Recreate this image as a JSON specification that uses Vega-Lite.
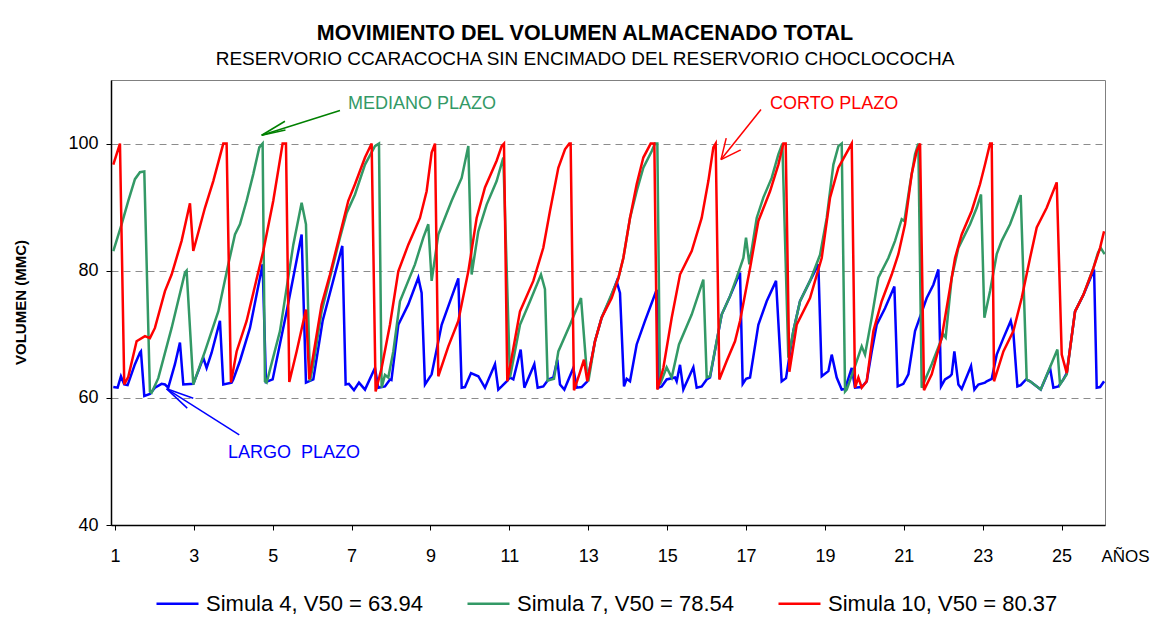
{
  "$schema": "https://vega.github.io/schema/vega-lite/v6.json",
  "width": 994,
  "height": 445,
  "autosize": {"type": "none"},
  "padding": {"left": 111, "top": 80, "right": 59, "bottom": 96},
  "background": "white",
  "config": {
    "font": "Liberation Sans",
    "view": {"stroke": "#808080", "strokeWidth": 1}
  },
  "title": {
    "text": "MOVIMIENTO DEL VOLUMEN ALMACENADO TOTAL",
    "subtitle": "RESERVORIO CCARACOCHA SIN ENCIMADO DEL RESERVORIO CHOCLOCOCHA",
    "font": "Liberation Sans",
    "subtitleFont": "Liberation Sans",
    "fontSize": 21.5,
    "fontWeight": "bold",
    "subtitleFontSize": 19,
    "color": "black",
    "subtitleColor": "black",
    "anchor": "middle",
    "dx": -23,
    "offset": 11,
    "subtitlePadding": 6
  },
  "datasets": {
    "s4": [
      {"anio":0.958,"vol":61.7},{"anio":1.068,"vol":61.6},{"anio":1.152,"vol":63.4},{"anio":1.236,"vol":62.1},{"anio":1.321,"vol":62.0},{"anio":1.507,"vol":65.3},{"anio":1.634,"vol":67.1},{"anio":1.659,"vol":67.3},{"anio":1.744,"vol":60.3},{"anio":1.887,"vol":60.6},{"anio":2.014,"vol":61.6},{"anio":2.183,"vol":62.2},{"anio":2.268,"vol":62.1},{"anio":2.352,"vol":61.6},{"anio":2.521,"vol":65.3},{"anio":2.648,"vol":68.7},{"anio":2.733,"vol":62.1},{"anio":2.986,"vol":62.2},{"anio":3.113,"vol":64.2},{"anio":3.240,"vol":66.3},{"anio":3.324,"vol":64.7},{"anio":3.451,"vol":67.1},{"anio":3.662,"vol":72.1},{"anio":3.747,"vol":62.1},{"anio":3.958,"vol":62.4},{"anio":4.000,"vol":62.9},{"anio":4.169,"vol":65.8},{"anio":4.423,"vol":71.0},{"anio":4.744,"vol":81.0},{"anio":4.829,"vol":62.5},{"anio":4.998,"vol":62.9},{"anio":5.353,"vol":73.6},{"anio":5.733,"vol":85.7},{"anio":5.843,"vol":62.4},{"anio":6.029,"vol":62.9},{"anio":6.265,"vol":72.1},{"anio":6.764,"vol":83.9},{"anio":6.849,"vol":62.1},{"anio":6.930,"vol":62.2},{"anio":7.060,"vol":61.2},{"anio":7.187,"vol":62.4},{"anio":7.339,"vol":61.3},{"anio":7.592,"vol":64.7},{"anio":7.677,"vol":61.6},{"anio":7.846,"vol":61.8},{"anio":7.972,"vol":62.9},{"anio":8.010,"vol":62.8},{"anio":8.184,"vol":71.5},{"anio":8.437,"vol":74.7},{"anio":8.691,"vol":78.9},{"anio":8.775,"vol":76.5},{"anio":8.860,"vol":62.1},{"anio":9.029,"vol":63.7},{"anio":9.283,"vol":71.5},{"anio":9.705,"vol":78.8},{"anio":9.790,"vol":61.6},{"anio":9.874,"vol":61.7},{"anio":10.027,"vol":63.9},{"anio":10.212,"vol":63.4},{"anio":10.381,"vol":61.6},{"anio":10.635,"vol":65.3},{"anio":10.719,"vol":61.3},{"anio":10.804,"vol":61.8},{"anio":10.931,"vol":62.6},{"anio":11.015,"vol":63.2},{"anio":11.100,"vol":62.9},{"anio":11.286,"vol":67.6},{"anio":11.379,"vol":61.6},{"anio":11.632,"vol":65.3},{"anio":11.717,"vol":61.6},{"anio":11.860,"vol":61.8},{"anio":11.987,"vol":62.9},{"anio":12.114,"vol":63.2},{"anio":12.215,"vol":66.0},{"anio":12.283,"vol":62.1},{"anio":12.393,"vol":61.3},{"anio":12.621,"vol":64.7},{"anio":12.706,"vol":61.6},{"anio":12.833,"vol":61.7},{"anio":12.976,"vol":62.6},{"anio":13.170,"vol":68.9},{"anio":13.339,"vol":72.6},{"anio":13.550,"vol":75.5},{"anio":13.720,"vol":78.3},{"anio":13.804,"vol":76.5},{"anio":13.906,"vol":61.8},{"anio":13.973,"vol":63.0},{"anio":14.058,"vol":62.6},{"anio":14.227,"vol":68.4},{"anio":14.438,"vol":72.1},{"anio":14.734,"vol":77.0},{"anio":14.776,"vol":61.6},{"anio":14.860,"vol":61.8},{"anio":14.987,"vol":62.9},{"anio":15.199,"vol":63.2},{"anio":15.241,"vol":62.6},{"anio":15.326,"vol":65.2},{"anio":15.410,"vol":61.3},{"anio":15.664,"vol":64.8},{"anio":15.748,"vol":61.6},{"anio":15.875,"vol":61.8},{"anio":16.002,"vol":62.9},{"anio":16.086,"vol":63.2},{"anio":16.382,"vol":73.1},{"anio":16.593,"vol":76.0},{"anio":16.847,"vol":79.7},{"anio":16.915,"vol":62.2},{"anio":17.000,"vol":63.0},{"anio":17.101,"vol":63.2},{"anio":17.312,"vol":71.5},{"anio":17.523,"vol":75.2},{"anio":17.760,"vol":78.4},{"anio":17.903,"vol":62.6},{"anio":18.013,"vol":63.1},{"anio":18.199,"vol":70.5},{"anio":18.368,"vol":75.2},{"anio":18.622,"vol":78.4},{"anio":18.833,"vol":81.0},{"anio":18.918,"vol":63.4},{"anio":19.087,"vol":64.2},{"anio":19.172,"vol":66.8},{"anio":19.298,"vol":63.2},{"anio":19.425,"vol":61.3},{"anio":19.510,"vol":61.4},{"anio":19.679,"vol":64.7},{"anio":19.763,"vol":61.6},{"anio":19.932,"vol":61.7},{"anio":20.059,"vol":62.6},{"anio":20.186,"vol":67.3},{"anio":20.312,"vol":71.5},{"anio":20.523,"vol":74.1},{"anio":20.760,"vol":77.5},{"anio":20.844,"vol":61.8},{"anio":20.988,"vol":62.2},{"anio":21.115,"vol":63.7},{"anio":21.284,"vol":70.5},{"anio":21.580,"vol":75.7},{"anio":21.749,"vol":77.8},{"anio":21.876,"vol":80.2},{"anio":21.943,"vol":61.8},{"anio":22.044,"vol":62.9},{"anio":22.171,"vol":63.4},{"anio":22.214,"vol":63.7},{"anio":22.281,"vol":67.3},{"anio":22.383,"vol":62.1},{"anio":22.467,"vol":61.4},{"anio":22.704,"vol":65.0},{"anio":22.789,"vol":61.3},{"anio":22.890,"vol":62.1},{"anio":23.058,"vol":62.4},{"anio":23.101,"vol":62.6},{"anio":23.228,"vol":63.0},{"anio":23.355,"vol":66.8},{"anio":23.524,"vol":69.4},{"anio":23.710,"vol":72.1},{"anio":23.777,"vol":70.2},{"anio":23.879,"vol":61.8},{"anio":23.963,"vol":62.0},{"anio":24.098,"vol":62.9},{"anio":24.200,"vol":62.6},{"anio":24.470,"vol":61.3},{"anio":24.707,"vol":64.7},{"anio":24.791,"vol":61.6},{"anio":24.918,"vol":61.8},{"anio":25.045,"vol":62.9},{"anio":25.130,"vol":63.9},{"anio":25.341,"vol":73.6},{"anio":25.552,"vol":76.2},{"anio":25.823,"vol":80.2},{"anio":25.890,"vol":61.6},{"anio":25.975,"vol":61.7},{"anio":26.076,"vol":62.6}
    ],
    "s7": [
      {"anio":0.958,"vol":83.1},{"anio":1.169,"vol":87.3},{"anio":1.338,"vol":91.0},{"anio":1.507,"vol":94.4},{"anio":1.634,"vol":95.5},{"anio":1.744,"vol":95.6},{"anio":1.887,"vol":61.0},{"anio":1.929,"vol":60.8},{"anio":2.099,"vol":63.1},{"anio":2.437,"vol":71.0},{"anio":2.775,"vol":79.7},{"anio":2.817,"vol":80.0},{"anio":2.986,"vol":62.1},{"anio":3.282,"vol":67.3},{"anio":3.620,"vol":73.6},{"anio":3.874,"vol":81.0},{"anio":4.043,"vol":85.7},{"anio":4.169,"vol":87.3},{"anio":4.338,"vol":91.0},{"anio":4.507,"vol":95.2},{"anio":4.660,"vol":99.4},{"anio":4.744,"vol":100},{"anio":4.803,"vol":62.6},{"anio":4.846,"vol":62.4},{"anio":5.184,"vol":70.5},{"anio":5.522,"vol":84.1},{"anio":5.733,"vol":90.7},{"anio":5.843,"vol":87.3},{"anio":5.944,"vol":62.6},{"anio":6.029,"vol":65.3},{"anio":6.240,"vol":73.6},{"anio":6.451,"vol":78.9},{"anio":6.705,"vol":85.2},{"anio":6.874,"vol":89.1},{"anio":7.085,"vol":92.0},{"anio":7.339,"vol":96.7},{"anio":7.592,"vol":99.6},{"anio":7.694,"vol":100},{"anio":7.761,"vol":61.6},{"anio":7.846,"vol":63.6},{"anio":7.930,"vol":63.2},{"anio":8.057,"vol":67.3},{"anio":8.226,"vol":75.2},{"anio":8.606,"vol":81.0},{"anio":8.818,"vol":85.2},{"anio":8.944,"vol":87.3},{"anio":9.029,"vol":78.4},{"anio":9.198,"vol":85.7},{"anio":9.536,"vol":91.0},{"anio":9.790,"vol":94.6},{"anio":9.959,"vol":99.6},{"anio":10.043,"vol":79.4},{"anio":10.212,"vol":86.2},{"anio":10.424,"vol":90.4},{"anio":10.677,"vol":94.1},{"anio":10.846,"vol":97.8},{"anio":11.015,"vol":63.2},{"anio":11.269,"vol":71.5},{"anio":11.523,"vol":75.2},{"anio":11.801,"vol":79.4},{"anio":11.902,"vol":77.1},{"anio":11.970,"vol":62.7},{"anio":12.131,"vol":63.0},{"anio":12.241,"vol":67.3},{"anio":12.537,"vol":71.5},{"anio":12.816,"vol":75.7},{"anio":12.960,"vol":64.2},{"anio":13.002,"vol":62.6},{"anio":13.170,"vol":68.9},{"anio":13.339,"vol":72.6},{"anio":13.550,"vol":75.7},{"anio":13.762,"vol":78.8},{"anio":13.889,"vol":82.0},{"anio":14.058,"vol":88.3},{"anio":14.227,"vol":92.5},{"anio":14.396,"vol":96.2},{"anio":14.607,"vol":98.8},{"anio":14.691,"vol":100},{"anio":14.751,"vol":100},{"anio":14.818,"vol":62.1},{"anio":14.987,"vol":64.8},{"anio":15.115,"vol":63.2},{"anio":15.300,"vol":68.4},{"anio":15.622,"vol":73.1},{"anio":15.917,"vol":78.6},{"anio":16.002,"vol":63.2},{"anio":16.086,"vol":63.4},{"anio":16.382,"vol":73.1},{"anio":16.593,"vol":76.0},{"anio":16.763,"vol":78.9},{"anio":16.932,"vol":82.0},{"anio":16.999,"vol":85.2},{"anio":17.084,"vol":81.0},{"anio":17.270,"vol":88.3},{"anio":17.438,"vol":91.5},{"anio":17.650,"vol":94.6},{"anio":17.819,"vol":98.3},{"anio":17.920,"vol":100},{"anio":18.072,"vol":66.3},{"anio":18.199,"vol":70.5},{"anio":18.368,"vol":75.2},{"anio":18.622,"vol":78.4},{"anio":18.876,"vol":82.5},{"anio":19.045,"vol":88.3},{"anio":19.214,"vol":96.7},{"anio":19.341,"vol":99.6},{"anio":19.425,"vol":100},{"anio":19.510,"vol":61.0},{"anio":19.552,"vol":61.3},{"anio":19.763,"vol":65.0},{"anio":19.932,"vol":68.1},{"anio":20.016,"vol":66.8},{"anio":20.186,"vol":72.6},{"anio":20.354,"vol":78.9},{"anio":20.608,"vol":82.0},{"anio":20.777,"vol":84.7},{"anio":20.946,"vol":88.1},{"anio":21.013,"vol":87.8},{"anio":21.157,"vol":93.6},{"anio":21.284,"vol":98.3},{"anio":21.368,"vol":100},{"anio":21.453,"vol":61.6},{"anio":21.707,"vol":65.3},{"anio":22.002,"vol":70.0},{"anio":22.061,"vol":69.5},{"anio":22.214,"vol":78.9},{"anio":22.383,"vol":83.6},{"anio":22.679,"vol":87.3},{"anio":22.848,"vol":89.9},{"anio":22.957,"vol":92.0},{"anio":23.042,"vol":72.6},{"anio":23.186,"vol":76.8},{"anio":23.355,"vol":82.6},{"anio":23.481,"vol":84.7},{"anio":23.693,"vol":87.3},{"anio":23.819,"vol":89.4},{"anio":23.963,"vol":91.9},{"anio":24.115,"vol":62.9},{"anio":24.200,"vol":62.6},{"anio":24.470,"vol":61.3},{"anio":24.893,"vol":67.6},{"anio":24.960,"vol":62.1},{"anio":25.130,"vol":63.7},{"anio":25.341,"vol":73.6},{"anio":25.552,"vol":76.2},{"anio":25.806,"vol":80.4},{"anio":25.920,"vol":82.8},{"anio":25.990,"vol":83.6},{"anio":26.090,"vol":82.6}
    ],
    "s10": [
      {"anio":0.958,"vol":96.7},{"anio":1.127,"vol":100},{"anio":1.236,"vol":62.1},{"anio":1.338,"vol":63.3},{"anio":1.549,"vol":68.9},{"anio":1.761,"vol":69.7},{"anio":1.887,"vol":69.4},{"anio":2.014,"vol":71.0},{"anio":2.268,"vol":76.8},{"anio":2.437,"vol":79.4},{"anio":2.690,"vol":84.7},{"anio":2.902,"vol":90.6},{"anio":2.986,"vol":83.1},{"anio":3.282,"vol":89.9},{"anio":3.493,"vol":94.1},{"anio":3.747,"vol":100},{"anio":3.831,"vol":100},{"anio":3.941,"vol":62.4},{"anio":4.085,"vol":67.3},{"anio":4.338,"vol":72.1},{"anio":4.761,"vol":83.1},{"anio":5.014,"vol":91.0},{"anio":5.251,"vol":100},{"anio":5.336,"vol":100},{"anio":5.420,"vol":62.5},{"anio":5.606,"vol":67.3},{"anio":5.843,"vol":73.9},{"anio":5.927,"vol":62.9},{"anio":6.240,"vol":74.7},{"anio":6.451,"vol":79.4},{"anio":6.916,"vol":91.0},{"anio":7.085,"vol":93.6},{"anio":7.339,"vol":97.8},{"anio":7.508,"vol":100},{"anio":7.609,"vol":61.0},{"anio":7.761,"vol":64.7},{"anio":7.972,"vol":71.5},{"anio":8.184,"vol":79.9},{"anio":8.437,"vol":84.1},{"anio":8.733,"vol":88.3},{"anio":8.902,"vol":92.5},{"anio":9.029,"vol":98.6},{"anio":9.114,"vol":100},{"anio":9.198,"vol":63.4},{"anio":9.452,"vol":68.1},{"anio":9.705,"vol":72.1},{"anio":9.959,"vol":79.9},{"anio":10.170,"vol":88.3},{"anio":10.381,"vol":93.1},{"anio":10.677,"vol":97.3},{"anio":10.804,"vol":99.6},{"anio":10.863,"vol":100},{"anio":10.947,"vol":62.6},{"anio":11.057,"vol":66.3},{"anio":11.269,"vol":73.6},{"anio":11.607,"vol":78.4},{"anio":11.860,"vol":83.6},{"anio":12.029,"vol":89.4},{"anio":12.241,"vol":96.2},{"anio":12.410,"vol":99.1},{"anio":12.520,"vol":100},{"anio":12.553,"vol":100},{"anio":12.638,"vol":61.2},{"anio":12.773,"vol":63.7},{"anio":12.891,"vol":66.0},{"anio":12.976,"vol":62.6},{"anio":13.170,"vol":68.9},{"anio":13.339,"vol":72.6},{"anio":13.593,"vol":75.7},{"anio":13.762,"vol":78.8},{"anio":13.889,"vol":82.0},{"anio":14.058,"vol":88.3},{"anio":14.227,"vol":93.6},{"anio":14.396,"vol":97.8},{"anio":14.582,"vol":100},{"anio":14.675,"vol":100},{"anio":14.751,"vol":61.3},{"anio":14.903,"vol":64.7},{"anio":15.115,"vol":72.6},{"anio":15.326,"vol":79.4},{"anio":15.622,"vol":83.1},{"anio":15.875,"vol":88.3},{"anio":16.044,"vol":94.1},{"anio":16.171,"vol":99.4},{"anio":16.230,"vol":100},{"anio":16.323,"vol":62.9},{"anio":16.509,"vol":65.8},{"anio":16.720,"vol":68.9},{"anio":16.847,"vol":72.1},{"anio":17.101,"vol":80.4},{"anio":17.312,"vol":87.8},{"anio":17.608,"vol":92.5},{"anio":17.819,"vol":96.7},{"anio":17.946,"vol":100},{"anio":18.005,"vol":100},{"anio":18.098,"vol":64.1},{"anio":18.284,"vol":71.5},{"anio":18.622,"vol":75.7},{"anio":18.918,"vol":82.0},{"anio":19.130,"vol":91.5},{"anio":19.341,"vol":96.2},{"anio":19.679,"vol":100},{"anio":19.763,"vol":61.6},{"anio":19.848,"vol":63.2},{"anio":19.932,"vol":61.6},{"anio":20.059,"vol":62.6},{"anio":20.228,"vol":70.5},{"anio":20.439,"vol":75.2},{"anio":20.693,"vol":79.4},{"anio":20.861,"vol":82.6},{"anio":21.030,"vol":87.3},{"anio":21.199,"vol":95.2},{"anio":21.326,"vol":98.8},{"anio":21.411,"vol":100},{"anio":21.512,"vol":61.2},{"anio":21.707,"vol":63.7},{"anio":21.960,"vol":69.5},{"anio":22.298,"vol":82.0},{"anio":22.467,"vol":85.7},{"anio":22.720,"vol":89.4},{"anio":22.931,"vol":93.6},{"anio":23.058,"vol":96.7},{"anio":23.186,"vol":100},{"anio":23.228,"vol":100},{"anio":23.287,"vol":62.6},{"anio":23.524,"vol":67.3},{"anio":23.777,"vol":70.5},{"anio":23.988,"vol":75.7},{"anio":24.200,"vol":82.0},{"anio":24.369,"vol":86.8},{"anio":24.622,"vol":89.9},{"anio":24.876,"vol":93.9},{"anio":25.003,"vol":66.8},{"anio":25.130,"vol":63.9},{"anio":25.341,"vol":73.6},{"anio":25.552,"vol":76.2},{"anio":25.806,"vol":80.4},{"anio":25.975,"vol":83.6},{"anio":26.076,"vol":86.2}
    ],
    "flechas": [
      {"plazo":"MEDIANO","anio":6.705,"vol":105.20,"anio2":4.720,"vol2":101.31},
      {"plazo":"MEDIANO","anio":4.720,"vol":101.31,"anio2":5.310,"vol2":103.51},
      {"plazo":"MEDIANO","anio":4.720,"vol":101.31,"anio2":5.323,"vol2":102.13},
      {"plazo":"CORTO","anio":17.379,"vol":105.35,"anio2":16.365,"vol2":97.48},
      {"plazo":"CORTO","anio":16.365,"vol":97.48,"anio2":16.497,"vol2":100.85},
      {"plazo":"CORTO","anio":16.365,"vol":97.48,"anio2":16.865,"vol2":99.02},
      {"plazo":"LARGO","anio":4.152,"vol":54.17,"anio2":2.311,"vol2":61.42},
      {"plazo":"LARGO","anio":2.311,"vol":61.42,"anio2":2.985,"vol2":59.95},
      {"plazo":"LARGO","anio":2.311,"vol":61.42,"anio2":2.833,"vol2":58.38}
    ],
    "notas": [
      {"plazo":"MEDIANO","anio":6.908,"vol":106.3,"texto":"MEDIANO PLAZO"},
      {"plazo":"CORTO","anio":17.607,"vol":106.3,"texto":"CORTO PLAZO"},
      {"plazo":"LARGO","anio":3.865,"vol":51.34,"texto":"LARGO\u00a0 PLAZO"}
    ]
  },
  "layer": [
    {
      "data": {"name": "s4"},
      "mark": {"type": "line", "strokeWidth": 2.5, "clip": true},
      "encoding": {
        "x": {
          "field": "anio", "type": "quantitative",
          "scale": {"domain": [0.9, 26.1], "nice": false, "zero": false},
          "axis": {
            "values": [1,1.5,2,2.5,3,3.5,4,4.5,5,5.5,6,6.5,7,7.5,8,8.5,9,9.5,10,10.5,11,11.5,12,12.5,13,13.5,14,14.5,15,15.5,16,16.5,17,17.5,18,18.5,19,19.5,20,20.5,21,21.5,22,22.5,23,23.5,24,24.5,25,25.5,26],
            "labelExpr": "datum.value % 2 == 1 ? datum.label : ''",
            "grid": false,
            "tickSize": 5, "tickColor": "black", "tickWidth": 1,
            "domainColor": "black", "domainWidth": 1.5,
            "labelFontSize": 18, "labelColor": "black", "labelPadding": 17,
            "labelOverlap": false, "labelFlush": false,
            "title": "AÑOS", "titleX": 1014, "titleY": 31,
            "titleFontSize": 17, "titleFontWeight": "normal", "titleColor": "black",
            "titleAlign": "center", "titleBaseline": "middle"
          }
        },
        "y": {
          "field": "vol", "type": "quantitative",
          "scale": {"domain": [40, 110], "nice": false, "zero": false},
          "axis": {
            "values": [40, 60, 80, 100],
            "grid": true, "gridDash": [7, 5], "gridColor": "#8c8c8c", "gridWidth": 1,
            "tickSize": 5, "tickColor": "black",
            "domainColor": "black", "domainWidth": 1.5,
            "labelFontSize": 18, "labelColor": "black", "labelPadding": 8,
            "title": "VOLUMEN (MMC)", "titleFontSize": 15, "titleFontWeight": "bold", "titleColor": "black",
            "titleX": -91, "titleY": 222, "titleAngle": -90,
            "titleAlign": "center", "titleBaseline": "middle"
          }
        },
        "color": {
          "datum": "Simula 4, V50 = 63.94",
          "type": "nominal",
          "scale": {
            "domain": ["Simula 4, V50 = 63.94", "Simula 7, V50 = 78.54", "Simula 10, V50 = 80.37"],
            "range": ["#0000FF", "#339966", "#FF0000"]
          },
          "legend": {
            "orient": "none", "legendX": 44, "legendY": 501,
            "direction": "horizontal", "title": null,
            "symbolType": "stroke", "symbolSize": 1764, "symbolStrokeWidth": 2.5,
            "labelFontSize": 22, "labelColor": "black", "labelOffset": 6,
            "columnPadding": 38, "labelLimit": 400
          }
        }
      }
    },
    {
      "data": {"name": "s7"},
      "mark": {"type": "line", "strokeWidth": 2.5, "clip": true},
      "encoding": {
        "x": {"field": "anio", "type": "quantitative"},
        "y": {"field": "vol", "type": "quantitative"},
        "color": {"datum": "Simula 7, V50 = 78.54", "type": "nominal"}
      }
    },
    {
      "data": {"name": "s10"},
      "mark": {"type": "line", "strokeWidth": 2.5, "clip": true},
      "encoding": {
        "x": {"field": "anio", "type": "quantitative"},
        "y": {"field": "vol", "type": "quantitative"},
        "color": {"datum": "Simula 10, V50 = 80.37", "type": "nominal"}
      }
    },
    {
      "data": {"name": "flechas"},
      "mark": {"type": "rule", "strokeWidth": 1.5},
      "encoding": {
        "x": {"field": "anio", "type": "quantitative"},
        "y": {"field": "vol", "type": "quantitative"},
        "x2": {"field": "anio2"},
        "y2": {"field": "vol2"},
        "stroke": {
          "field": "plazo", "type": "nominal",
          "scale": {"domain": ["MEDIANO", "CORTO", "LARGO"], "range": ["#008000", "#FF0000", "#0000FF"]},
          "legend": null
        }
      }
    },
    {
      "data": {"name": "notas"},
      "mark": {"type": "text", "align": "left", "baseline": "middle", "fontSize": 18, "font": "Liberation Sans"},
      "encoding": {
        "x": {"field": "anio", "type": "quantitative"},
        "y": {"field": "vol", "type": "quantitative"},
        "text": {"field": "texto"},
        "fill": {
          "field": "plazo", "type": "nominal",
          "scale": {"domain": ["MEDIANO", "CORTO", "LARGO"], "range": ["#339966", "#FF0000", "#0000FF"]},
          "legend": null
        }
      }
    }
  ]
}
